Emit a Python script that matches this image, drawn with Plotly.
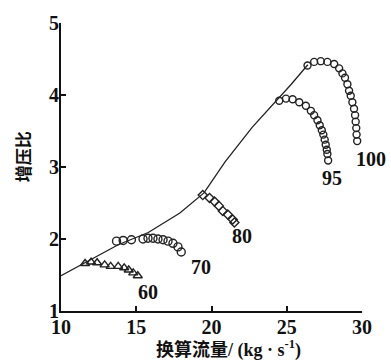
import plotly.graph_objects as go

# surge line (envelope)
surge_x = [10.0, 11.8, 13.8, 15.8, 17.9, 19.5, 20.9, 22.7, 24.3, 25.3, 26.4]
surge_y = [1.49, 1.69, 1.92, 2.09, 2.36, 2.64, 3.07, 3.55, 3.92, 4.15, 4.42]

# speed lines
s60_x = [11.6, 12.0, 12.4, 12.9, 13.3, 13.8, 14.2, 14.5, 14.8, 15.1]
s60_y = [1.66, 1.68, 1.67, 1.64, 1.62, 1.62, 1.60, 1.57, 1.53, 1.49]

s70_x = [13.69, 14.13, 14.68, 15.45, 15.78, 16.11, 16.44, 16.78, 17.11, 17.44, 17.77, 17.99]
s70_y = [1.97, 1.98, 1.99, 2.00, 2.01, 2.01, 2.00, 1.99, 1.97, 1.94, 1.89, 1.82]

s80_x = [19.42, 19.87, 20.20, 20.49, 20.75, 21.08, 21.41, 21.52]
s80_y = [2.61, 2.57, 2.52, 2.46, 2.39, 2.34, 2.27, 2.23]

s95_x = [24.50, 24.95, 25.39, 25.83, 26.27, 26.60, 26.82, 27.04, 27.19, 27.33, 27.43, 27.52, 27.59, 27.66, 27.70, 27.75]
s95_y = [3.92, 3.95, 3.94, 3.90, 3.85, 3.78, 3.72, 3.65, 3.58, 3.51, 3.45, 3.38, 3.31, 3.24, 3.18, 3.09]

s100_x = [26.38, 26.82, 27.26, 27.70, 28.15, 28.48, 28.70, 28.87, 29.03, 29.14, 29.25, 29.36, 29.47, 29.54, 29.58, 29.62, 29.64, 29.68]
s100_y = [4.41, 4.46, 4.47, 4.46, 4.43, 4.37, 4.30, 4.24, 4.15, 4.06, 3.99, 3.90, 3.81, 3.72, 3.63, 3.54, 3.45, 3.36]

labels = ["60", "70", "80", "95", "100"]
label_x = [15.76, 19.27, 22.05, 28.0, 30.6]
label_y = [1.26, 1.61, 2.04, 2.85, 3.11]

x_ticks = [10, 15, 20, 25, 30]
y_ticks = [1, 2, 3, 4, 5]

X0, X1, Y0, Y1 = 10, 30, 1, 5

fig = go.Figure()
fig.add_trace(go.Scatter(x=surge_x, y=surge_y, mode="lines",
                         line=dict(color="#222", width=1.3), showlegend=False))

series = [
    (s60_x, s60_y, "triangle-up-open", 8),
    (s70_x, s70_y, "circle-open", 8),
    (s80_x, s80_y, "diamond-open", 7),
    (s95_x, s95_y, "circle-open", 7),
    (s100_x, s100_y, "circle-open", 7),
]
for sx, sy, sym, sz in series:
    fig.add_trace(go.Scatter(x=sx, y=sy, mode="markers",
                             marker=dict(symbol=sym, size=sz, color="#222",
                                         line=dict(color="#222", width=1.4)),
                             showlegend=False, cliponaxis=False))

num_font = dict(family="Liberation Serif", size=20, color="#111")
for t, lx, ly in zip(labels, label_x, label_y):
    px = (lx - X0) / (X1 - X0)
    py = (ly - Y0) / (Y1 - Y0)
    fig.add_annotation(xref="paper", yref="paper", x=px, y=py, text="<b>%s</b>" % t,
                       showarrow=False, font=num_font, xanchor="center", yanchor="middle")

cjk = dict(family="Noto Sans CJK SC", size=18, color="#111")
fig.add_annotation(xref="paper", yref="paper", x=0.558, y=-0.13,
                   text="<b>换算流量</b><b><span style='font-family:Liberation Serif'>/ (kg · s<sup>-1</sup>)</span></b>",
                   showarrow=False, font=cjk, xanchor="center", yanchor="middle")
fig.add_annotation(xref="paper", yref="paper", x=-0.13, y=0.537,
                   text="<b>增压比</b>", showarrow=False, textangle=-90,
                   font=dict(family="Noto Sans CJK SC", size=17, color="#111"),
                   xanchor="center", yanchor="middle")

fig.update_xaxes(range=[X0, X1], tickvals=x_ticks, ticktext=["<b>%d</b>" % v for v in x_ticks],
                 showgrid=False, zeroline=False, showline=True, linecolor="#111",
                 linewidth=2, ticks="inside", ticklen=5, tickwidth=1.5, tickcolor="#111",
                 tickfont=num_font, ticklabelstandoff=-3)
fig.update_yaxes(range=[Y0, Y1], tickvals=y_ticks, ticktext=["<b>%d</b>" % v for v in y_ticks],
                 showgrid=False, zeroline=False, showline=True, linecolor="#111",
                 linewidth=2, ticks="inside", ticklen=5, tickwidth=1.5, tickcolor="#111",
                 tickfont=num_font, ticklabelstandoff=-4)

fig.update_layout(width=391, height=361, margin=dict(l=61, r=29, t=17, b=50),
                  plot_bgcolor="white", paper_bgcolor="white")
fig.write_html("out.html")
